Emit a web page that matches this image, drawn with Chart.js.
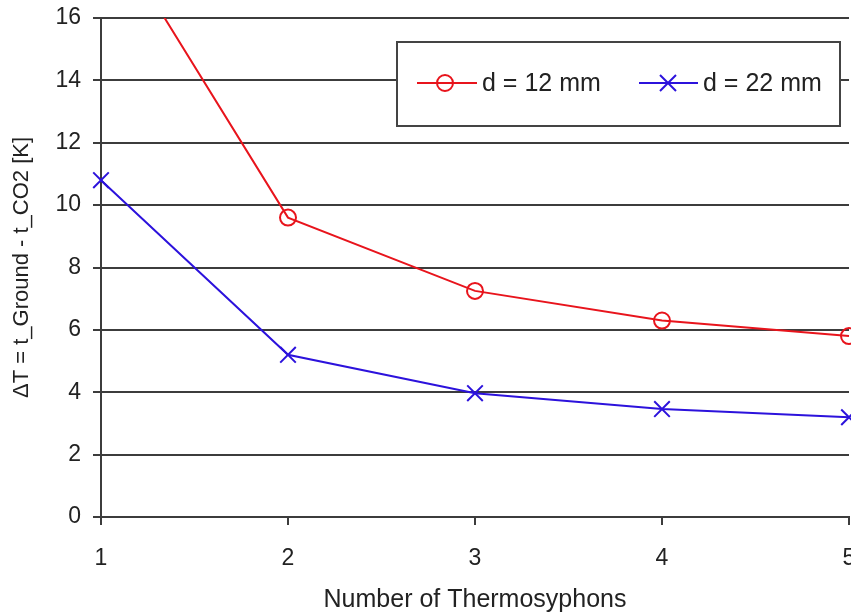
<!DOCTYPE html>
<html>
<head>
<meta charset="utf-8">
<script src="https://cdn.jsdelivr.net/npm/chart.js@4.4.1/dist/chart.umd.min.js"></script>
<style>
  html, body { margin: 0; padding: 0; background: #fff; overflow: hidden; }
  #wrap { width: 870px; height: 615px; }
  canvas { display: block; }
</style>
</head>
<body>
<div id="wrap"><canvas id="chart" width="870" height="615"></canvas></div>
<script>
// Data
const thermosyphons = ['1', '2', '3', '4', '5'];
const deltaT12mm = [19.3, 9.6, 7.25, 6.3, 5.8];   // first point runs off the top
const deltaT22mm = [10.8, 5.2, 3.97, 3.46, 3.2];
const seriesNames = ['d = 12 mm', 'd = 22 mm'];

const RED = '#e8141c';
const BLUE = '#2c12dc';
const GRID = '#3c3c3c';
const FONT = 'Arial, "Liberation Sans", sans-serif';

// Draw a legend marker by hand
function drawMarker(ctx, style, x, y, r, color) {
    ctx.save();
    ctx.strokeStyle = color;
    ctx.lineWidth = 2;
    ctx.beginPath();
    if (style === 'circle') {
        ctx.arc(x, y, r, 0, Math.PI * 2);
    } else {
        ctx.moveTo(x - r, y - r); ctx.lineTo(x + r, y + r);
        ctx.moveTo(x - r, y + r); ctx.lineTo(x + r, y - r);
    }
    ctx.stroke();
    ctx.restore();
}

// Boxed legend inside the plot, like the original
const boxLegend = {
    id: 'boxLegend',
    afterDraw(chart) {
        const ctx = chart.ctx;
        ctx.save();
        ctx.fillStyle = '#fff';
        ctx.fillRect(397, 42, 443, 84);
        ctx.strokeStyle = '#444';
        ctx.lineWidth = 2;
        ctx.strokeRect(397, 42, 443, 84);

        const items = [
            { x0: 417, x1: 477, mx: 445, tx: 482, color: RED, style: 'circle', text: seriesNames[0] },
            { x0: 639, x1: 698, mx: 668, tx: 703, color: BLUE, style: 'cross', text: seriesNames[1] }
        ];
        const y = 83;
        items.forEach(it => {
            ctx.strokeStyle = it.color;
            ctx.lineWidth = 2;
            ctx.beginPath();
            ctx.moveTo(it.x0, y);
            ctx.lineTo(it.x1, y);
            ctx.stroke();
            drawMarker(ctx, it.style, it.mx, y, 8, it.color);
            ctx.fillStyle = '#222';
            ctx.font = '25px ' + FONT;
            ctx.textBaseline = 'middle';
            ctx.textAlign = 'left';
            ctx.fillText(it.text, it.tx, y + 1);
        });
        ctx.restore();
    }
};

const ctx = document.getElementById('chart').getContext('2d');
new Chart(ctx, {
    type: 'line',
    data: {
        labels: thermosyphons,
        datasets: [{
            label: seriesNames[0],
            data: deltaT12mm,
            borderColor: RED,
            backgroundColor: 'transparent',
            borderWidth: 2,
            pointStyle: 'circle',
            pointRadius: 8,
            pointBorderColor: RED,
            pointBackgroundColor: 'transparent',
            pointBorderWidth: 2,
            tension: 0,
            clip: { left: 12, top: 0, right: 12, bottom: 12 }
        }, {
            label: seriesNames[1],
            data: deltaT22mm,
            borderColor: BLUE,
            backgroundColor: 'transparent',
            borderWidth: 2,
            pointStyle: 'crossRot',
            pointRadius: 11,
            pointBorderColor: BLUE,
            pointBorderWidth: 2,
            tension: 0,
            clip: { left: 12, top: 0, right: 12, bottom: 12 }
        }]
    },
    options: {
        responsive: false,
        animation: false,
        layout: { padding: { top: 18, right: 21, left: 0, bottom: 0 } },
        plugins: {
            legend: { display: false },
            tooltip: { enabled: false }
        },
        scales: {
            x: {
                offset: false,
                grid: {
                    drawOnChartArea: false,
                    drawTicks: true,
                    tickLength: 8,
                    color: GRID,
                    lineWidth: 2
                },
                border: { display: true, color: GRID, width: 2 },
                ticks: {
                    color: '#222',
                    font: { family: FONT, size: 23 },
                    padding: 20,
                    maxRotation: 0
                },
                title: {
                    display: true,
                    text: 'Number of Thermosyphons',
                    color: '#222',
                    font: { family: FONT, size: 25 },
                    padding: { top: 0, bottom: 0 }
                },
                afterFit: s => {
                    s.height = 98;
                    s.paddingLeft = 0;
                    s.paddingRight = 0;
                }
            },
            y: {
                min: 0,
                max: 16,
                grid: {
                    color: GRID,
                    lineWidth: 2,
                    tickLength: 8
                },
                border: { display: true, color: GRID, width: 2 },
                ticks: {
                    stepSize: 2,
                    color: '#222',
                    font: { family: FONT, size: 23 },
                    padding: 12
                },
                title: {
                    display: true,
                    text: 'ΔT = t_Ground - t_CO2 [K]',
                    color: '#222',
                    font: { family: FONT, size: 22 },
                    padding: { top: 9, bottom: 0 }
                },
                afterFit: s => {
                    s.width = 101;
                    s.paddingTop = 0;
                    s.paddingBottom = 0;
                }
            }
        }
    },
    plugins: [boxLegend]
});
</script>
</body>
</html>
